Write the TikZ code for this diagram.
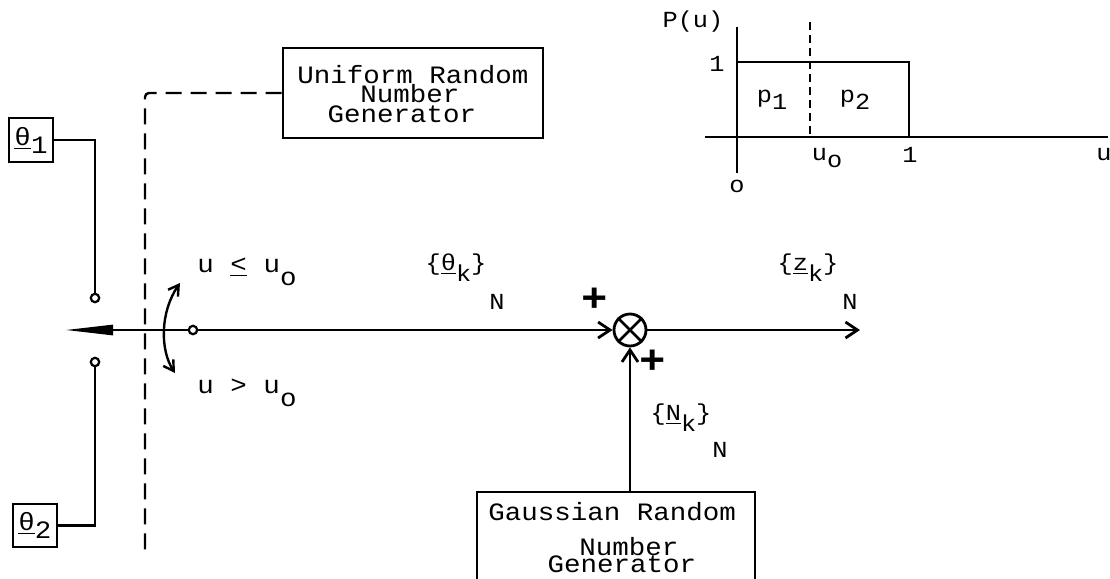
\documentclass[tikz,border=0pt]{standalone}
\usepackage{fontspec}
\setmainfont{Liberation Mono}[FakeStretch=1.1]
\usetikzlibrary{arrows.meta}
\newcommand\lo[2][0.6ex]{\raisebox{-#1}{#2}}
\begin{document}
\begin{tikzpicture}[x=0.5pt,y=-0.5pt,
  every node/.style={font=\fontsize{12.5}{15}\selectfont},
  ln/.style={line width=1.4pt},
  thin/.style={line width=1.2pt},
  dsh/.style={line width=1.2pt,dash pattern=on 8pt off 4.5pt},
  dshs/.style={line width=0.9pt,dash pattern=on 4pt off 2.5pt},
  barb/.style={-{Straight Barb[length=6pt,width=8pt]}},
  box/.style={draw,line width=1.4pt,inner sep=0pt},
  term/.style={circle,draw,line width=1.1pt,minimum size=4.2pt,inner sep=0pt,fill=white},
  lbl/.style={inner sep=0pt},
  txt/.style={inner sep=0pt,anchor=base},
  sml/.style={inner sep=0pt,font=\fontsize{11.5}{14}\selectfont},
  plus/.style={inner sep=0pt,font=\fontsize{20}{20}\selectfont\bfseries}
]
\useasboundingbox (0,0) rectangle (1110,579);
\clip (0,0) rectangle (1110,579);

% boxes
\node[box,minimum width=22pt,minimum height=22pt] (th1) at (31,140) {\underline{θ}\lo{1}};
\node[box,minimum width=22pt,minimum height=21.5pt] (th2) at (35,525.5) {\underline{θ}\lo{2}};
\node[box,minimum width=130pt,minimum height=45pt] (uni) at (413,93) {};
\node[txt] (uni1) at (413,83) {Uniform Random};
\node[txt] (uni2) at (410,102) {Number};
\node[txt] (uni3) at (402,122) {Generator};
\node[box,minimum width=139pt,minimum height=55pt] (gau) at (616,547) {};
\node[txt,anchor=base west] (gau1) at (488,520) {Gaussian Random};
\node[txt] (gau2) at (629,555) {Number};
\node[txt] (gau3) at (622,572) {Generator};

% terminals and junction
\node[term] (t1) at (95,298) {};
\node[term] (t2) at (95,362) {};
\node[term] (pv) at (193,330) {};
\node[circle,draw,line width=1.4pt,minimum size=16pt,inner sep=0pt] (sum) at (630,330) {};
\coordinate (tip) at (65,330);
\coordinate (out) at (860,330);
\coordinate (dend) at (145,550);
\coordinate (sw1) at (180,283);
\coordinate (sw2) at (175,373);

% connectors
\draw[ln] (th1.east) -| (t1.north);
\draw[ln] (th2.east) -| (t2.south);
\draw[ln,-{Triangle[length=24pt,width=5pt]}] (pv.west) -- (tip);
\draw[ln,barb] (pv.east) -- (sum.west);
\draw[ln,barb] (sum.east) -- (out);
\draw[ln,barb] (gau.north -| sum) -- (sum.south);
\draw[ln] (sum.45) -- (sum.225) (sum.135) -- (sum.315);
\draw[dsh,rounded corners=2pt] (uni.west) -| (dend);
\draw[thin,{Straight Barb[length=5pt,width=6pt]}-{Straight Barb[length=5pt,width=6pt]}]
  (sw1) .. controls (160,312) and (160,350) .. (sw2);

% labels
\node[lbl] (le) at (247,272) {u \underline{<} u\lo[1ex]{o}};
\node[lbl] (gt) at (247,393) {u > u\lo[1ex]{o}};
\node[sml] (thk) at (456,268) {\{\underline{θ}\lo[0.9ex]{k}\}};
\node[sml] (thn) at (497,302) {N};
\node[sml] (zk) at (808,268) {\{\underline{z}\lo[0.9ex]{k}\}};
\node[sml] (zn) at (850,302) {N};
\node[sml] (nk) at (681,418) {\{\underline{N}\lo[0.9ex]{k}\}};
\node[sml] (nn) at (720,450) {N};
\node[plus] (pl1) at (595,300) {+};
\node[plus] (pl2) at (653,362) {+};

% graph
\draw[thin] (737,27) -- (737,173);
\draw[thin] (705,137) -- (1108,137);
\draw[ln] (737,62) -| (909,137);
\draw[dshs] (810,22) -- (810,137);
\node[sml] (pu) at (693,22) {P(u)};
\node[sml] (one) at (717,64) {1};
\node[sml] (p1) at (772,100) {p\lo{1}};
\node[sml] (p2) at (855,100) {p\lo{2}};
\node[sml] (uo) at (827,158) {u\lo{o}};
\node[sml] (onex) at (910,155) {1};
\node[sml] (zero) at (737,186) {o};
\node[sml] (uax) at (1104,155) {u};
\end{tikzpicture}
\end{document}
